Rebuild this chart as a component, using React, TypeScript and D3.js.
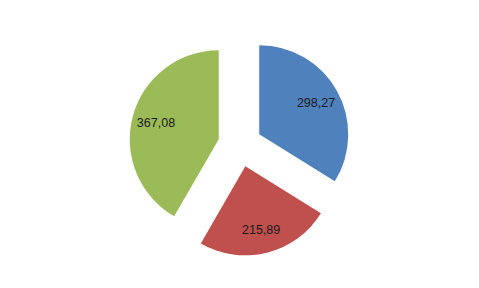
import React from "react";
import * as d3 from "d3";

const categories = ["A", "B", "C"];
const values = [298.27, 215.89, 367.08];
const labels = ["298,27", "215,89", "367,08"];
const colors = ["#4F81BD", "#C0504D", "#9BBB59"];

const W = 479;
const H = 288;

export default function App() {
  const cx = 240;
  const cy = 145;
  const r = 89;
  const explode = 22;
  const labelR = 65;
  const pie = d3.pie<number>().value((d) => d).sort(null);
  const arcs = pie(values);
  const arcGen = d3.arc<d3.PieArcDatum<number>>().innerRadius(0).outerRadius(r);
  return (
    <svg width={W} height={H} style={{ position: "absolute", left: 0, top: 0 }}>
      <rect width={W} height={H} fill="#ffffff" />
      <g transform={`translate(${cx},${cy})`}>
        {arcs.map((a, i) => {
          const mid = (a.startAngle + a.endAngle) / 2;
          const dx = Math.sin(mid) * explode;
          const dy = -Math.cos(mid) * explode;
          const lx = Math.sin(mid) * labelR;
          const ly = -Math.cos(mid) * labelR;
          return (
            <g key={categories[i]} transform={`translate(${dx},${dy})`}>
              <path d={arcGen(a) || ""} fill={colors[i]} />
              <text
                x={lx}
                y={ly + 4.5}
                textAnchor="middle"
                fontFamily="Liberation Sans, Arial, sans-serif"
                fontSize={12.5}
                fill="#1a1a1a"
              >
                {labels[i]}
              </text>
            </g>
          );
        })}
      </g>
    </svg>
  );
}
